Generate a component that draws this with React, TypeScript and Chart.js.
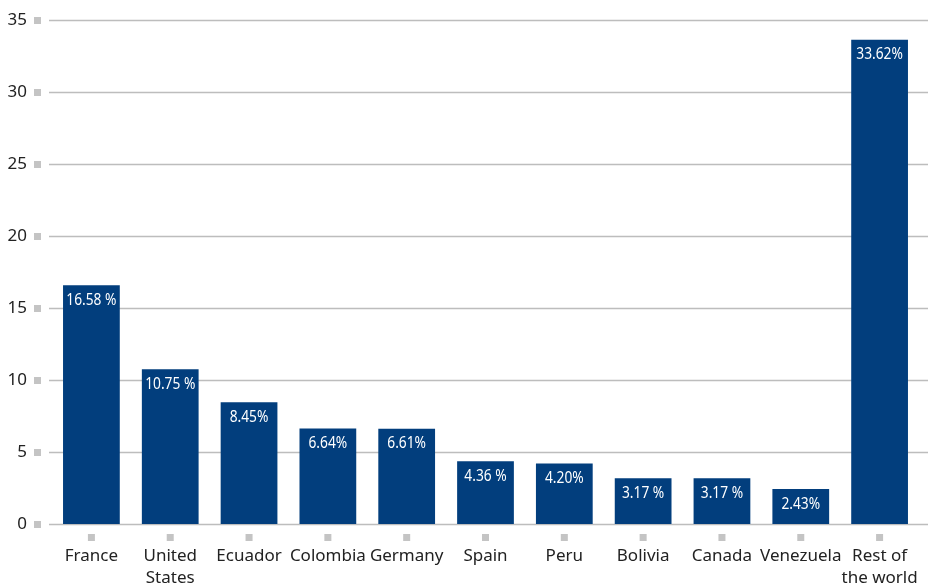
import React, { useEffect, useRef } from "react";
import { Chart, registerables } from "chart.js";

Chart.register(...registerables);

const categories: (string | string[])[] = [
  "France",
  ["United", "States"],
  "Ecuador",
  "Colombia",
  "Germany",
  "Spain",
  "Peru",
  "Bolivia",
  "Canada",
  "Venezuela",
  ["Rest of", "the world"],
];

const shares = [16.58, 10.75, 8.45, 6.64, 6.61, 4.36, 4.2, 3.17, 3.17, 2.43, 33.62];

// labels as printed on the bars (spacing differs in the original)
const barLabels = [
  "16.58 %",
  "10.75 %",
  "8.45%",
  "6.64%",
  "6.61%",
  "4.36 %",
  "4.20%",
  "3.17 %",
  "3.17 %",
  "2.43%",
  "33.62%",
];

const yTicks = [0, 5, 10, 15, 20, 25, 30, 35];

const BAR_COLOR = "#023e7d";
const GRID_COLOR = "#bdbdbd";
const SQUARE_COLOR = "#c4c4c4";

// gridlines, square tick marks and the value labels
const decorations = {
  id: "decorations",
  beforeDatasetsDraw(chart: Chart) {
    const ctx = chart.ctx;
    const y = chart.scales.y;
    ctx.save();
    ctx.strokeStyle = GRID_COLOR;
    ctx.lineWidth = 1.5;
    yTicks.forEach((t) => {
      const py = Math.round(y.getPixelForValue(t)) + 0.5;
      ctx.beginPath();
      ctx.moveTo(49, py);
      ctx.lineTo(chart.width, py);
      ctx.stroke();
      ctx.fillStyle = SQUARE_COLOR;
      ctx.fillRect(34, py - 3.5, 7, 7);
    });
    const x = chart.scales.x;
    categories.forEach((_, i) => {
      const px = x.getPixelForValue(i);
      ctx.fillStyle = SQUARE_COLOR;
      ctx.fillRect(px - 3.5, chart.chartArea.bottom + 10, 7, 7);
    });
    ctx.restore();
  },
  afterDatasetsDraw(chart: Chart) {
    const ctx = chart.ctx;
    const meta = chart.getDatasetMeta(0);
    ctx.save();
    ctx.fillStyle = "#ffffff";
    ctx.font = "16px 'Noto Sans', sans-serif";
    ctx.textAlign = "center";
    ctx.textBaseline = "middle";
    meta.data.forEach((bar: any, i: number) => {
      ctx.save();
      ctx.translate(bar.x, bar.y + 15);
      ctx.scale(0.86, 1);
      ctx.fillText(barLabels[i], 0, 0);
      ctx.restore();
    });
    ctx.restore();
  },
};

const App: React.FC = () => {
  const chartRef = useRef<HTMLCanvasElement>(null);

  useEffect(() => {
    document.body.style.margin = "0";
    const canvas = chartRef.current;
    if (!canvas) return;
    Chart.getChart(canvas)?.destroy();

    const chart = new Chart(canvas, {
      type: "bar",
      data: {
        labels: categories,
        datasets: [
          {
            data: shares,
            backgroundColor: BAR_COLOR,
            borderWidth: 0,
            barPercentage: 0.72,
            categoryPercentage: 1,
          },
        ],
      },
      options: {
        responsive: false,
        animation: false,
        layout: { padding: { top: 20, right: 9, left: 0, bottom: 0 } },
        scales: {
          y: {
            min: 0,
            max: 35,
            border: { display: false },
            grid: { display: false, drawTicks: false },
            ticks: {
              stepSize: 5,
              padding: 25,
              color: "#222",
              font: { family: "'Noto Sans', sans-serif", size: 17 },
            },
            afterFit(scale: any) {
              scale.width = 52;
              scale.paddingTop = 0;
              scale.paddingBottom = 0;
            },
          },
          x: {
            border: { display: false },
            grid: { display: false, drawTicks: false },
            ticks: {
              padding: 21,
              color: "#222",
              maxRotation: 0,
              autoSkip: false,
              font: { family: "'Noto Sans', sans-serif", size: 17, lineHeight: 1.3 },
            },
            afterFit(scale: any) {
              scale.height = 61;
              scale.paddingLeft = 0;
              scale.paddingRight = 0;
            },
          },
        },
        plugins: {
          legend: { display: false },
          tooltip: { enabled: false },
        },
      },
      plugins: [decorations],
    });

    return () => {
      chart.destroy();
    };
  }, []);

  return (
    <div style={{ width: 928, height: 585 }}>
      <canvas ref={chartRef} width={928} height={585}></canvas>
    </div>
  );
};

export default App;
